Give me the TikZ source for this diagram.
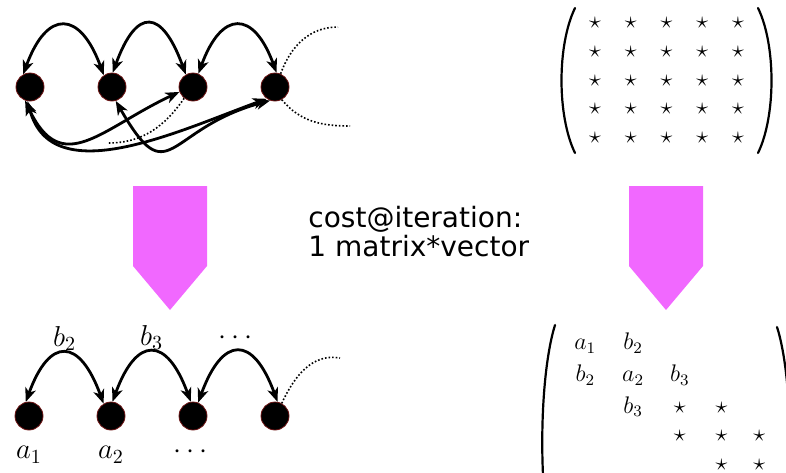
\documentclass[tikz,border=0pt]{standalone}
\usepackage{amsmath,amssymb}
\usepackage{fontspec}
\usepackage{tikz}
\usetikzlibrary{arrows.meta,matrix,positioning}
\newfontfamily\notefont{DejaVu Sans}
\definecolor{flowpink}{RGB}{241,104,255}
\definecolor{siteedge}{RGB}{110,20,20}
\tikzset{
  site/.style={circle,fill=black,draw=siteedge,line width=0.4pt,minimum size=14pt,inner sep=0pt},
  hop/.style={{Stealth[length=7pt,width=5.5pt,inset=2pt]}-{Stealth[length=7pt,width=5.5pt,inset=2pt]},line width=1.4pt},
  trail/.style={densely dotted,line width=0.8pt},
  vlabel/.style={font=\fontsize{14.4}{17}\selectfont,text height=10pt,text depth=3.5pt,inner sep=2pt},
  edgelabel/.style={vlabel,anchor=base,yshift=3.5pt},
  note/.style={font=\notefont\fontsize{14}{16}\selectfont,anchor=base west,inner sep=0pt},
  entry/.style={font=\fontsize{12}{14}\selectfont,inner sep=0pt},
  paren/.style={line width=1.1pt,line cap=round}
}

\begin{document}
\begin{tikzpicture}[x=0.5pt,y=0.5pt]
\useasboundingbox (0,0) rectangle (786,-472);

% full graph
\node[site] (t1) at (30,-87) {};
\node[site] (t2) at (112,-87) {};
\node[site] (t3) at (193,-87) {};
\node[site] (t4) at (275,-87) {};
\coordinate (t4up) at (338,-27);
\coordinate (t4down) at (350,-126);
\coordinate (t3tail) at (108,-143);
\draw[hop] (t1.118) to[out=70,in=110,looseness=2.2] (t2.125);
\draw[hop] (t2.87) to[out=70,in=110,looseness=2.45] (t3.120);
\draw[hop] (t3.68) to[out=70,in=110,looseness=2.2] (t4.84);
\draw[hop] (t1.250) to[out=-65,in=205,looseness=1.43] (t3.200);
\draw[hop] (t1.260) to[out=-75,in=200,looseness=1.0] (t4.235);
\draw[hop] (t2.-75) to[out=-60,in=195,looseness=1.8] (t4.250);
\draw[trail] (t3.232) to[out=235,in=0] (t3tail);
\draw[trail] (t4.67) to[out=70,in=180] (t4up);
\draw[trail] (t4.-62) to[out=-50,in=180] (t4down);

% dense matrix
\matrix (dense) [matrix of math nodes,
  nodes={entry,minimum width=17.9pt,minimum height=14.4pt},
  column sep=0pt,row sep=0pt,inner sep=0pt] at (666.5,-80.5) {
\star & \star & \star & \star & \star \\
\star & \star & \star & \star & \star \\
\star & \star & \star & \star & \star \\
\star & \star & \star & \star & \star \\
\star & \star & \star & \star & \star \\
};
\draw[paren] (575,-8) .. controls (557,-45) and (557,-116) .. (575,-153);
\draw[paren] (758,-8) .. controls (776,-45) and (776,-116) .. (758,-153);

% reduction arrows and cost
\fill[flowpink] (133,-186) -- (207,-186) -- (207,-266) -- (170,-310) -- (133,-266) -- cycle;
\fill[flowpink] (629,-186) -- (703,-186) -- (703,-266) -- (666,-310) -- (629,-266) -- cycle;
\node[note] (costline) at (308,-227) {cost@iteration:};
\node[note] (matvec) at (308,-256) {1 matrix*vector};

% chain
\node[site,label={[vlabel,label distance=2pt]below:$a_1$}] (b1) at (29,-416) {};
\node[site,label={[vlabel,label distance=2pt]below:$a_2$}] (b2) at (111,-416) {};
\node[site,label={[vlabel,label distance=2pt]below:$\cdots$}] (b3) at (193,-416) {};
\node[site] (b4) at (275,-416) {};
\coordinate (b4up) at (340,-358);
\draw[hop] (b1.103) to[out=70,in=110,looseness=2.3] node[edgelabel] {$b_2$} (b2.121);
\draw[hop] (b2.84) to[out=70,in=110,looseness=2.3] node[edgelabel] {$b_3$} (b3.99);
\draw[hop] (b3.69) to[out=70,in=110,looseness=2.3] node[edgelabel] {$\cdots$} (b4.80);
\draw[trail] (b4.62) to[out=65,in=170] (b4up);

% tridiagonal matrix
\matrix (tridiag) [matrix of math nodes,
  nodes={entry,minimum height=14.25pt},
  column sep=13pt,row sep=0pt,inner sep=0pt,anchor=north west] at (574,-328.75) {
a_1 & b_2 & & & \\
b_2 & a_2 & b_3 & & \\
 & b_3 & \star & \star & \\
 & & \star & \star & \star \\
 & & & \star & \star \\
};
\begin{scope}
\clip (0,0) rectangle (786,-472);
\draw[paren] (555,-325) .. controls (538,-380) and (538,-505) .. (555,-560);
\draw[paren] (777,-327) .. controls (794,-380) and (794,-505) .. (777,-560);
\end{scope}
\end{tikzpicture}
\end{document}
